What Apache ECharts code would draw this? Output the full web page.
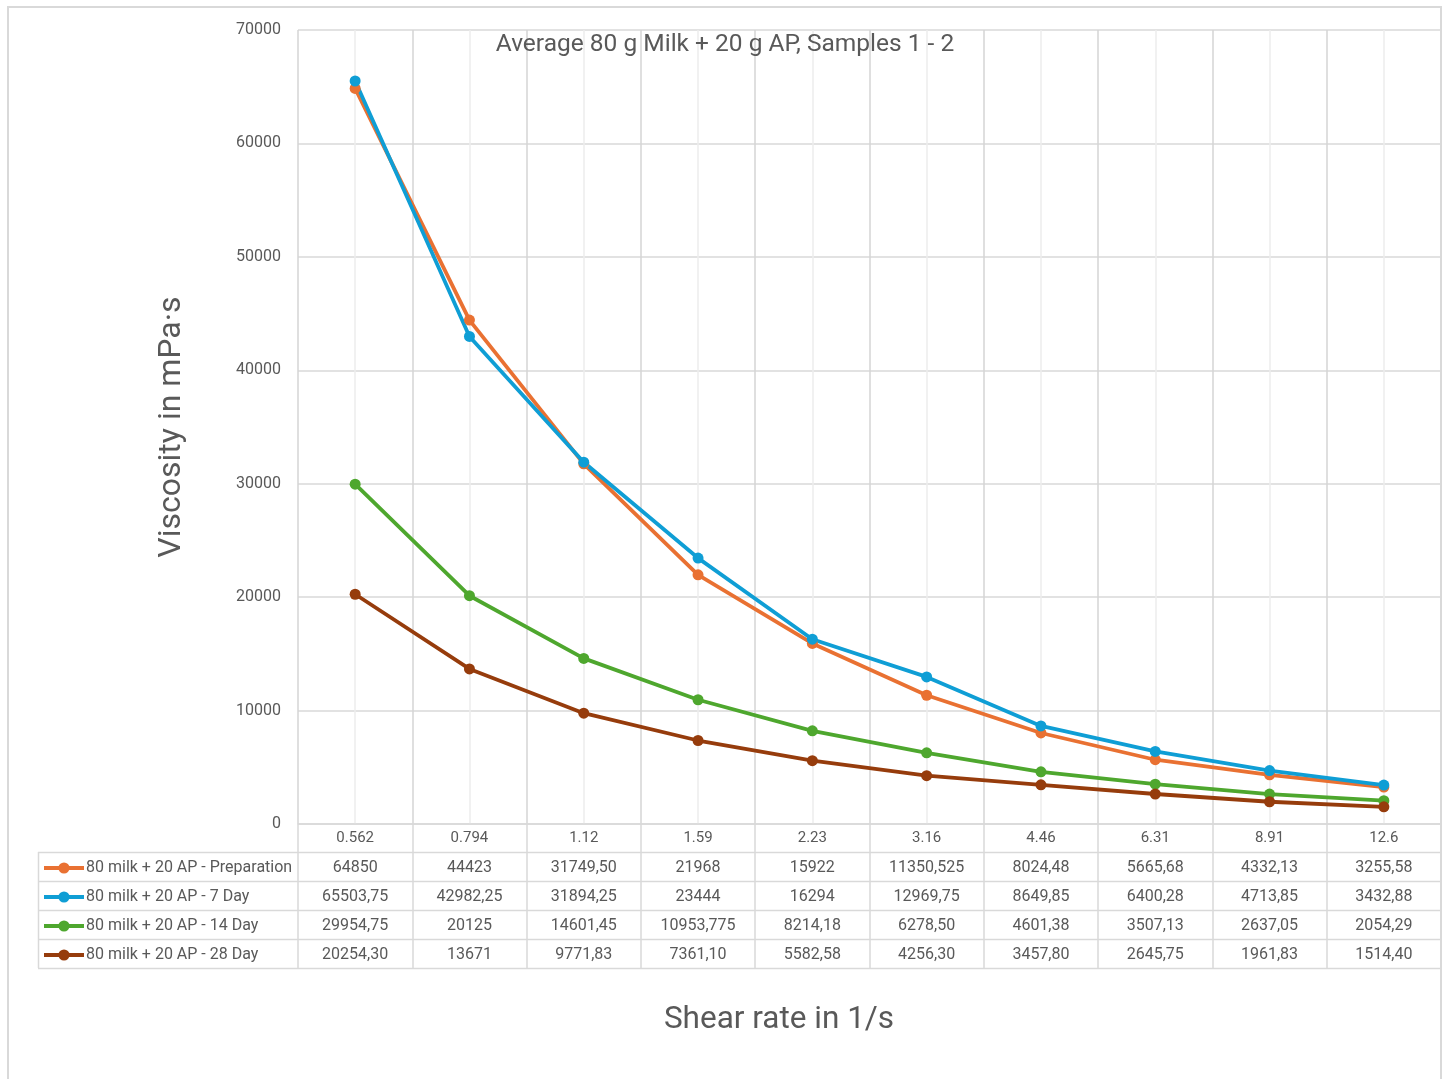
<!DOCTYPE html>
<html>
<head>
<meta charset="utf-8">
<script src="https://cdn.jsdelivr.net/npm/echarts@6/dist/echarts.min.js"></script>
<style>
  html, body { margin: 0; padding: 0; background: #ffffff; }
  #chart { width: 1445px; height: 1079px; }
</style>
</head>
<body>
<div id="chart"></div>
<script>
// Shear rates (1/s) used as categories
const shearRates = ['0.562', '0.794', '1.12', '1.59', '2.23', '3.16', '4.46', '6.31', '8.91', '12.6'];

// Viscosity values (mPa·s) as written in the data table (decimal comma)
const preparation = ['64850', '44423', '31749,50', '21968', '15922', '11350,525', '8024,48', '5665,68', '4332,13', '3255,58'];
const day7 = ['65503,75', '42982,25', '31894,25', '23444', '16294', '12969,75', '8649,85', '6400,28', '4713,85', '3432,88'];
const day14 = ['29954,75', '20125', '14601,45', '10953,775', '8214,18', '6278,50', '4601,38', '3507,13', '2637,05', '2054,29'];
const day28 = ['20254,30', '13671', '9771,83', '7361,10', '5582,58', '4256,30', '3457,80', '2645,75', '1961,83', '1514,40'];

const seriesNames = [
  '80 milk + 20 AP - Preparation',
  '80 milk + 20 AP - 7 Day',
  '80 milk + 20 AP - 14 Day',
  '80 milk + 20 AP - 28 Day'
];
const yTicks = { min: 0, max: 70000, interval: 10000 };

const tableRows = [preparation, day7, day14, day28];
const colors = ['#E97132', '#0F9ED5', '#4EA72E', '#963C0C'];
const toNumber = s => parseFloat(s.replace(',', '.'));

const narrow = '"Liberation Sans Narrow", "Arial Narrow", "Roboto", sans-serif';
const roboto = '"Roboto", sans-serif';
const textGray = '#595959';
const gridGray = '#D9D9D9';

const gridLeft = 298, gridRight = 1441, gridTop = 30, gridBottom = 824;
const rowH = 29, headerH = 28;

const chart = echarts.init(document.getElementById('chart'), null, { renderer: 'canvas' });

// one hidden-line category axis per table row, carrying that row's values as labels
const rowAxes = tableRows.map((row, i) => ({
  type: 'category',
  gridIndex: 0,
  position: 'bottom',
  offset: headerH + i * rowH + 2,
  data: row,
  boundaryGap: true,
  axisLine: { show: false },
  axisTick: { show: false },
  splitLine: { show: false },
  axisLabel: { interval: 0, margin: 6, fontFamily: narrow, fontSize: 16, color: textGray }
}));

// table borders
const tableLines = [];
for (let i = 0; i <= 4; i++) {
  const y = gridBottom + headerH + i * rowH + 0.5;
  tableLines.push({ type: 'line', shape: { x1: 38, y1: y, x2: gridRight, y2: y }, style: { stroke: gridGray, lineWidth: 1.5 }, silent: true });
}
tableLines.push({ type: 'line', shape: { x1: 38.5, y1: gridBottom + headerH, x2: 38.5, y2: gridBottom + headerH + 4 * rowH }, style: { stroke: gridGray, lineWidth: 1.5 }, silent: true });

chart.setOption({
  animation: false,
  backgroundColor: '#ffffff',
  color: colors,
  title: [
    {
      text: 'Average 80 g Milk + 20 g AP, Samples 1 - 2',
      left: 720, top: 27, textAlign: 'center',
      textStyle: { fontFamily: narrow, fontSize: 24.5, fontWeight: 'normal', color: textGray }
    },
    {
      text: 'Shear rate in 1/s',
      left: 774, top: 999, textAlign: 'center',
      textStyle: { fontFamily: narrow, fontSize: 31.5, fontWeight: 'normal', color: textGray }
    }
  ],
  legend: {
    orient: 'vertical',
    left: 42, top: 860,
    padding: 0,
    itemWidth: 40, itemHeight: 14, itemGap: 13,
    selectedMode: false,
    lineStyle: { width: 4 },
    textStyle: { fontFamily: narrow, fontSize: 16, lineHeight: 16, color: textGray, padding: [0, 0, 0, -3] },
    data: seriesNames
  },
  grid: { left: gridLeft, right: 1445 - gridRight, top: gridTop, bottom: 1079 - gridBottom, containLabel: false },
  xAxis: [
    {
      type: 'category',
      data: shearRates,
      boundaryGap: true,
      axisLine: { show: true, lineStyle: { color: gridGray, width: 1.5 } },
      axisTick: { show: true, length: headerH + 4 * rowH, lineStyle: { color: gridGray, width: 1.5 } },
      splitLine: { show: false },
      axisLabel: { interval: 0, margin: 7, fontFamily: roboto, fontSize: 15, color: textGray }
    },
    // gridlines at category edges and centres
    {
      type: 'value',
      min: 0, max: 10, interval: 0.5,
      position: 'top',
      axisLine: { show: false },
      axisTick: { show: false },
      axisLabel: { show: false },
      splitLine: { show: true, lineStyle: { color: ['#D4D4D4', '#EDEDED'], width: 1.5 } }
    }
  ].concat(rowAxes),
  yAxis: {
    type: 'value',
    min: yTicks.min, max: yTicks.max, interval: yTicks.interval,
    name: 'Viscosity in mPa·s',
    nameLocation: 'middle',
    nameGap: 110,
    nameTextStyle: { fontFamily: roboto, fontSize: 32, color: textGray },
    axisLine: { show: false },
    axisTick: { show: false },
    axisLabel: { margin: 17, fontFamily: roboto, fontSize: 16, color: textGray, formatter: v => String(v) },
    splitLine: { show: true, lineStyle: { color: gridGray, width: 1.5 } }
  },
  series: tableRows.map((row, i) => ({
    name: seriesNames[i],
    type: 'line',
    xAxisIndex: 0,
    data: row.map(toNumber),
    symbol: 'circle',
    symbolSize: 11,
    lineStyle: { width: 3.8, color: colors[i] },
    itemStyle: { color: colors[i] }
  })),
  graphic: [
    { type: 'rect', shape: { x: 8, y: 7, width: 1433, height: 1100 }, style: { fill: null, stroke: gridGray, lineWidth: 2 }, silent: true, z: 100 }
  ].concat(tableLines)
});
</script>
</body>
</html>
